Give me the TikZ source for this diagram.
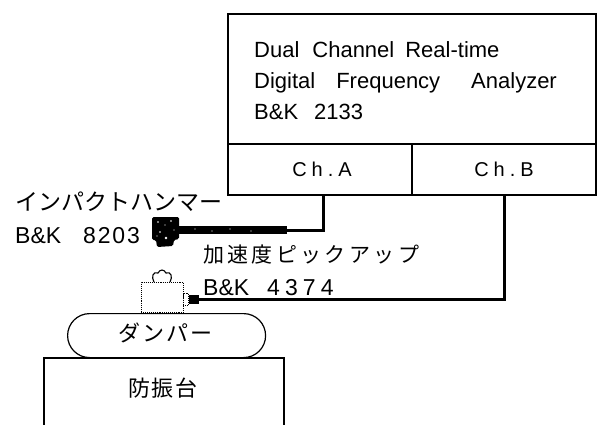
\documentclass[tikz,border=0pt]{standalone}
\usepackage{fontspec}
\setmainfont{Liberation Sans}
\newfontfamily\jpfont{Noto Sans CJK JP}
\begin{document}
\begin{tikzpicture}[x=1pt,y=-1pt,
  frame/.style={draw,line width=2.4pt,inner sep=0pt,anchor=north west},
  thinbox/.style={draw,line width=1.2pt,inner sep=0pt},
  wire/.style={line width=3pt},
  anatext/.style={anchor=base west,inner sep=0pt,font=\fontsize{22}{26}\selectfont},
  chtext/.style={font=\fontsize{20}{24}\selectfont\addfontfeature{LetterSpace=25}},
  jplabel/.style={anchor=base west,inner sep=0pt},
  lblB/.style={anchor=base west,inner sep=0pt,font=\fontsize{23}{27}\selectfont}]
\useasboundingbox (0,0) rectangle (600,425);

% analyzer with its two input channels
\node[frame,minimum width=368pt,minimum height=130pt] (ana) at (227,13) {};
\node[frame,minimum width=184pt,minimum height=51pt] (cha) at (227,143) {};
\node[frame,minimum width=184pt,minimum height=51pt] (chb) at (411,143) {};
\node[chtext,anchor=base] (chatxt) at (322,177) {Ch.A};
\node[chtext,anchor=base] (chbtxt) at (504,177) {Ch.B};
\node[anatext] (l1) at (254,58) {Dual\hspace{13pt}Channel\hspace{11pt}Real-time};
\node[anatext] (l2) at (254,89) {Digital\hspace{21pt}Frequency\hspace{31pt}Analyzer};
\node[anatext] (l3) at (254,120) {B\&K\hspace{16pt}2133};

% impact hammer: handle and head
\node[fill=black,inner sep=0pt,minimum width=109pt,minimum height=8pt,anchor=east] (handle) at (287,230) {};
\fill[black,rounded corners=1.5pt] (152,217) -- (179,217) -- (179,239) -- (174,240)
  -- (173,246) -- (157,247) -- (156,240) -- (152,240) -- cycle;
\fill[white] (158,222) circle (0.9) (165,225) circle (0.7) (171,221) circle (0.8)
  (160,232) circle (0.8) (166,238) circle (1.3) (174,230) circle (0.7) (157,236) circle (0.7)
  (195,229) circle (0.6) (212,231) circle (0.6) (230,229) circle (0.6) (251,231) circle (0.6);
\node[jplabel,font=\jpfont\fontsize{23}{27}\selectfont] (hamlbl) at (15,211) {インパクトハンマー};
\node[lblB] (hammodel) at (15,243) {B\&K\hspace{22pt}{\addfontfeature{LetterSpace=8}8203}};

% accelerometer on the damper, with its magnet mount and cable plug
\node[draw,densely dotted,line width=0.9pt,inner sep=0pt,minimum width=42pt,minimum height=30pt,anchor=north west] (acc) at (141,282) {};
\draw[line width=1.1pt] (154,282) .. controls (151,277) and (153,271) .. (158,273)
  .. controls (160,269) and (164,269) .. (166,273) .. controls (171,271) and (173,277) .. (170,282);
\node[draw,densely dotted,line width=0.9pt,inner sep=0pt,minimum width=5pt,minimum height=12pt,anchor=north west] (plug) at (183,293) {};
\node[fill=black,inner sep=0pt,minimum width=10pt,minimum height=9pt,anchor=west] (plugend) at (plug.east) {};
\node[jplabel,font=\jpfont\fontsize{21}{25}\selectfont\addfontfeature{LetterSpace=16}] (acclbl) at (203,262) {加速度ピックアップ};
\node[lblB] (accmodel) at (203,295) {B\&K\hspace{18pt}{\addfontfeature{LetterSpace=22}4374}};

% damper and isolation table
\node[thinbox,rounded corners=22pt,minimum width=198pt,minimum height=44pt,anchor=north west] (damper) at (67,313) {};
\node[jplabel,font=\jpfont\fontsize{22}{26}\selectfont\addfontfeature{LetterSpace=9}] (dampertxt) at (118,341) {ダンパー};
\coordinate (tblnw) at (44,358);
\coordinate (tblse) at (284,425);
\draw[line width=1.2pt] (tblnw |- tblse) -- (tblnw) -- (tblnw -| tblse) -- (tblse);
\node[jplabel,font=\jpfont\fontsize{22}{26}\selectfont\addfontfeature{LetterSpace=7}] (tbl) at (128,396) {防振台};

% signal cables
\draw[wire] ([xshift=3pt]cha.south) |- (handle.east);
\draw[wire] (chb.south) |- (plugend.east);
\end{tikzpicture}
\end{document}
